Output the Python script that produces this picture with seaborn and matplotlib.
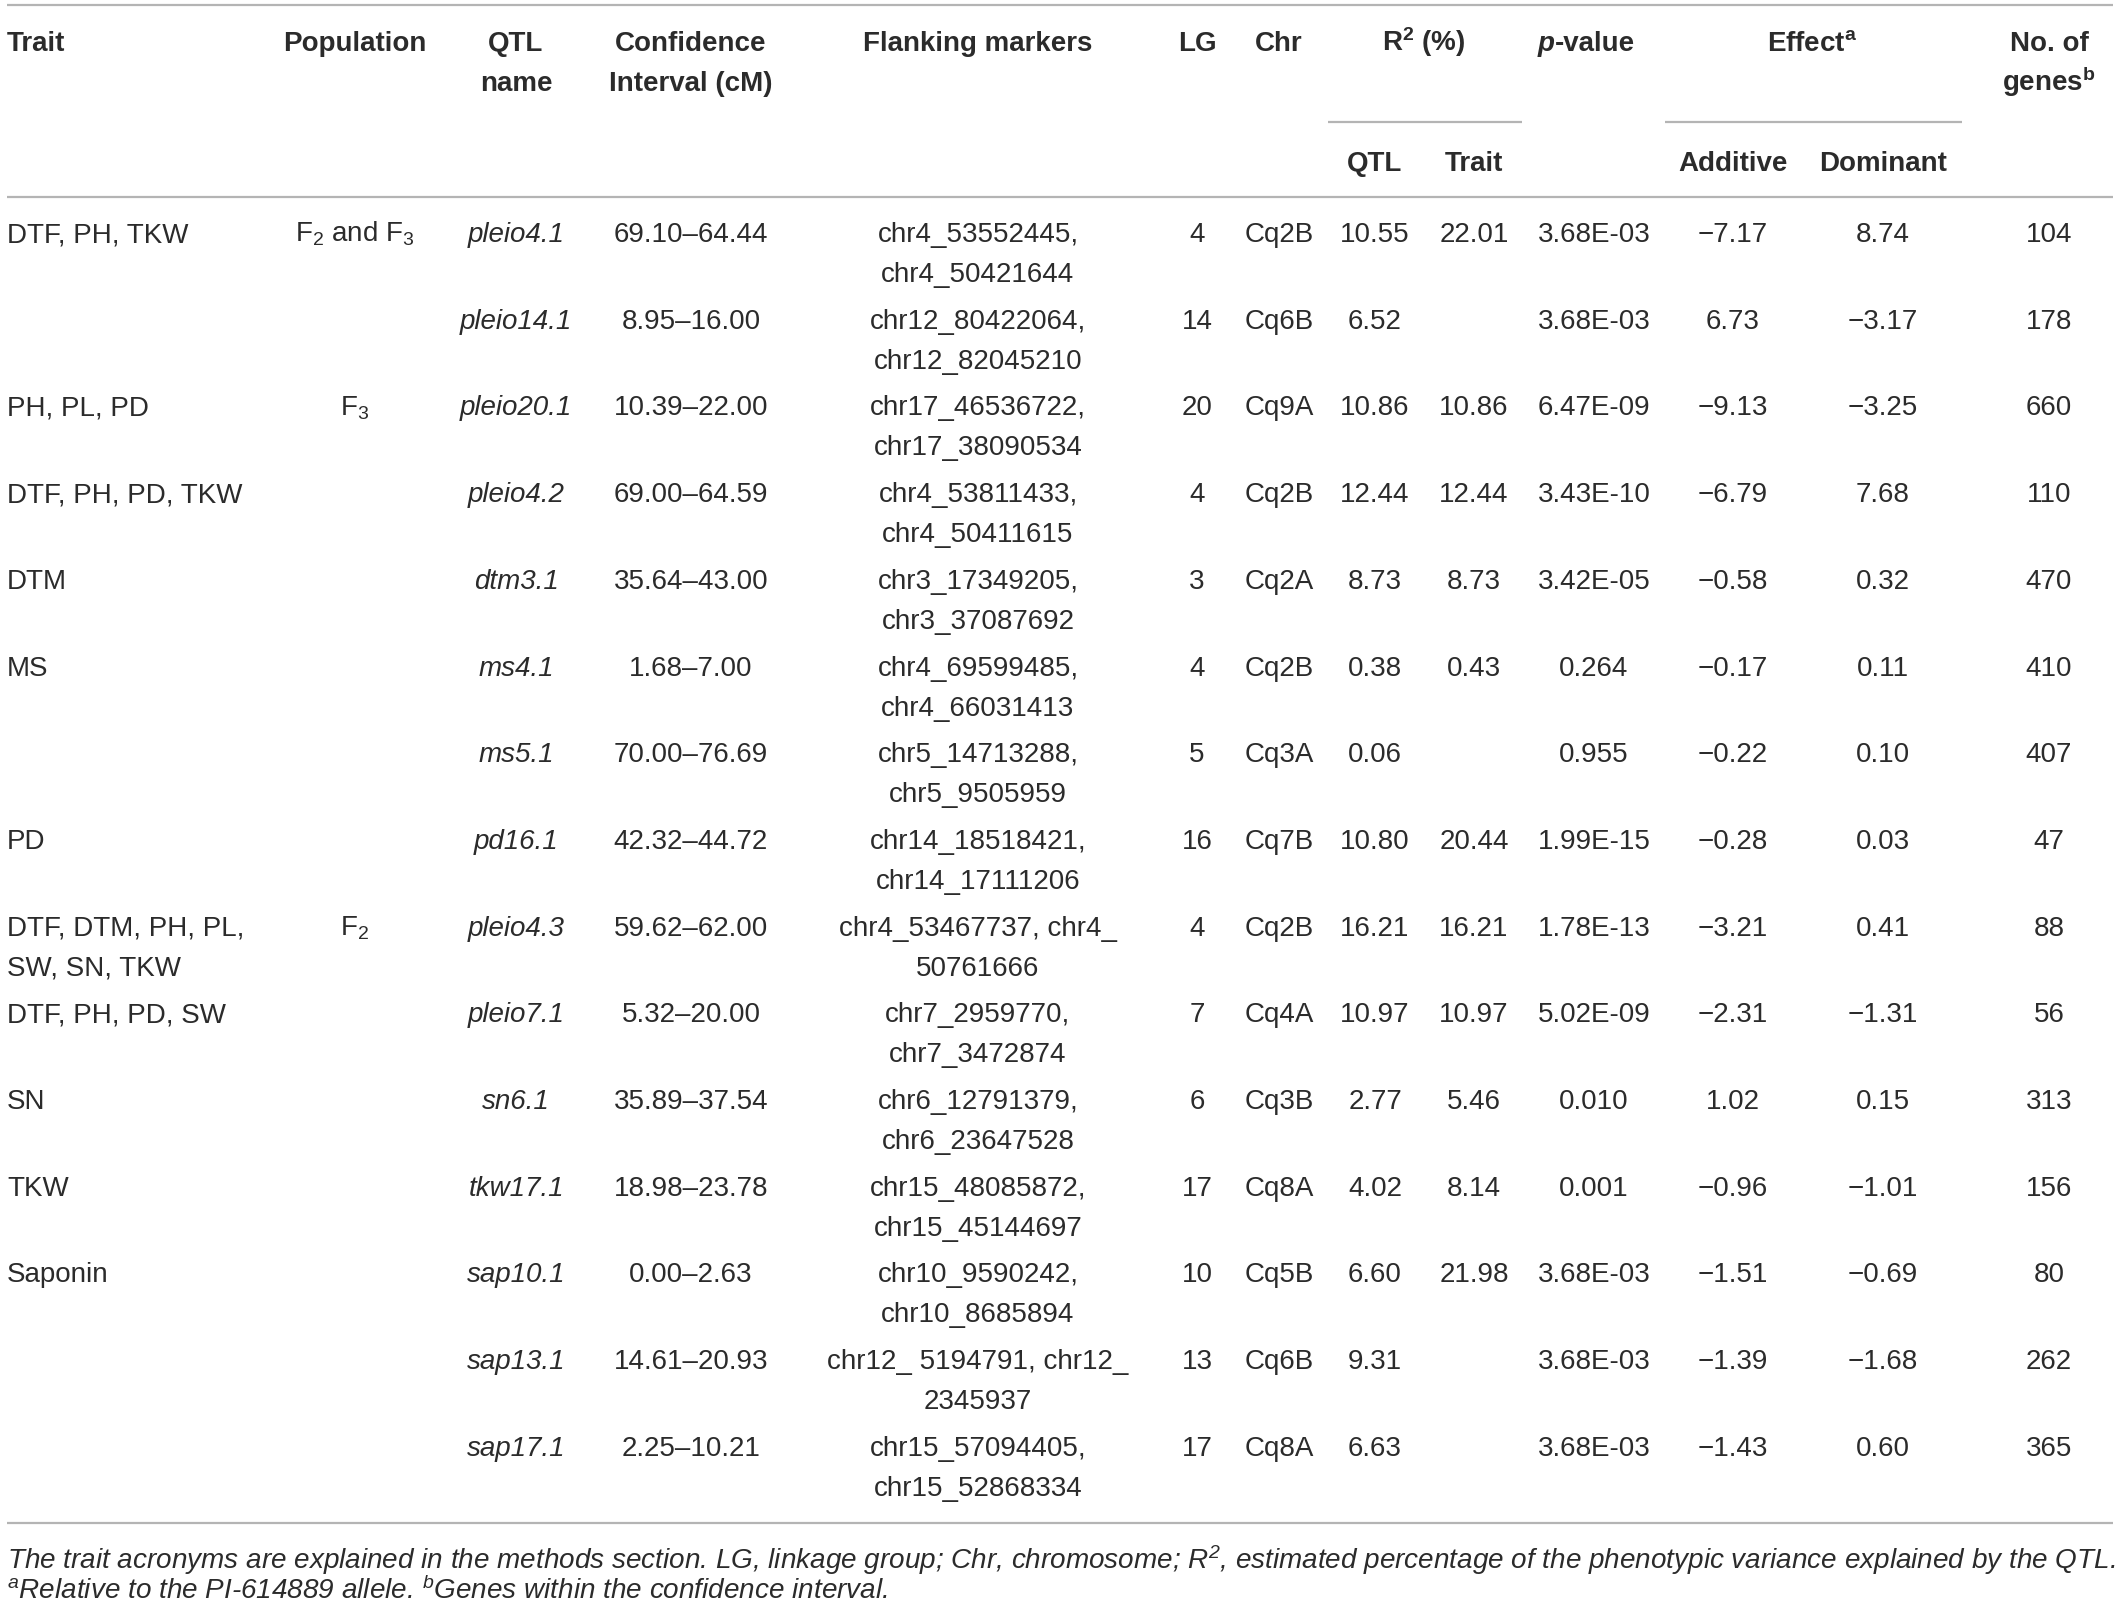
import matplotlib
matplotlib.use("Agg")
import numpy as np
import pandas as pd
import matplotlib.pyplot as plt
import seaborn as sns

# table content
trait = ["DTF, PH, TKW", "", "PH, PL, PD", "DTF, PH, PD, TKW", "DTM", "MS", "", "PD",
         "DTF, DTM, PH, PL,\nSW, SN, TKW", "DTF, PH, PD, SW", "SN", "TKW", "Saponin", "", ""]
population = ["F$_2$ and F$_3$", "", "F$_3$", "", "", "", "", "",
              "F$_2$", "", "", "", "", "", ""]
qtl_name = ["pleio4.1", "pleio14.1", "pleio20.1", "pleio4.2", "dtm3.1", "ms4.1", "ms5.1", "pd16.1",
            "pleio4.3", "pleio7.1", "sn6.1", "tkw17.1", "sap10.1", "sap13.1", "sap17.1"]
conf_int = ["69.10–64.44", "8.95–16.00", "10.39–22.00", "69.00–64.59", "35.64–43.00", "1.68–7.00",
            "70.00–76.69", "42.32–44.72", "59.62–62.00", "5.32–20.00", "35.89–37.54", "18.98–23.78",
            "0.00–2.63", "14.61–20.93", "2.25–10.21"]
markers = ["chr4_53552445,\nchr4_50421644", "chr12_80422064,\nchr12_82045210",
           "chr17_46536722,\nchr17_38090534", "chr4_53811433,\nchr4_50411615",
           "chr3_17349205,\nchr3_37087692", "chr4_69599485,\nchr4_66031413",
           "chr5_14713288,\nchr5_9505959", "chr14_18518421,\nchr14_17111206",
           "chr4_53467737, chr4_\n50761666", "chr7_2959770,\nchr7_3472874",
           "chr6_12791379,\nchr6_23647528", "chr15_48085872,\nchr15_45144697",
           "chr10_9590242,\nchr10_8685894", "chr12_ 5194791, chr12_\n2345937",
           "chr15_57094405,\nchr15_52868334"]
lg = [4, 14, 20, 4, 3, 4, 5, 16, 4, 7, 6, 17, 10, 13, 17]
chrom = ["Cq2B", "Cq6B", "Cq9A", "Cq2B", "Cq2A", "Cq2B", "Cq3A", "Cq7B", "Cq2B", "Cq4A",
         "Cq3B", "Cq8A", "Cq5B", "Cq6B", "Cq8A"]
r2_qtl = [10.55, 6.52, 10.86, 12.44, 8.73, 0.38, 0.06, 10.80, 16.21, 10.97, 2.77, 4.02, 6.60, 9.31, 6.63]
r2_trait = [22.01, None, 10.86, 12.44, 8.73, 0.43, None, 20.44, 16.21, 10.97, 5.46, 8.14, 21.98, None, None]
p_value = ["3.68E-03", "3.68E-03", "6.47E-09", "3.43E-10", "3.42E-05", "0.264", "0.955", "1.99E-15",
           "1.78E-13", "5.02E-09", "0.010", "0.001", "3.68E-03", "3.68E-03", "3.68E-03"]
additive = [-7.17, 6.73, -9.13, -6.79, -0.58, -0.17, -0.22, -0.28, -3.21, -2.31, 1.02, -0.96, -1.51, -1.39, -1.43]
dominant = [8.74, -3.17, -3.25, 7.68, 0.32, 0.11, 0.10, 0.03, 0.41, -1.31, 0.15, -1.01, -0.69, -1.68, 0.60]
n_genes = [104, 178, 660, 110, 470, 410, 407, 47, 88, 56, 313, 156, 80, 262, 365]

footnote1 = ("The trait acronyms are explained in the methods section. LG, linkage group; Chr, chromosome; "
             "R$^2$, estimated percentage of the phenotypic variance explained by the QTL.")
footnote2 = "$^a$Relative to the PI-614889 allele. $^b$Genes within the confidence interval."

sns.set_theme(style="white")
plt.rcParams['font.family'] = ['Liberation Sans', 'DejaVu Sans']
plt.rcParams['mathtext.fontset'] = 'custom'
plt.rcParams['mathtext.rm'] = 'Liberation Sans'
plt.rcParams['mathtext.it'] = 'Liberation Sans:italic'
plt.rcParams['mathtext.bf'] = 'Liberation Sans:bold'
plt.rcParams['mathtext.default'] = 'regular'


def fmt(v):
    if v is None:
        return ""
    return "{:.2f}".format(v).replace("-", "\u2212")


df = pd.DataFrame({
    'trait': trait, 'population': population, 'qtl': qtl_name, 'ci': conf_int,
    'markers': markers, 'lg': [str(v) for v in lg], 'chr': chrom,
    'r2q': [fmt(v) for v in r2_qtl], 'r2t': [fmt(v) for v in r2_trait],
    'p': p_value, 'add': [fmt(v) for v in additive], 'dom': [fmt(v) for v in dominant],
    'genes': [str(v) for v in n_genes]})

W, H = 2118, 1610
fig = plt.figure(figsize=(W / 100, H / 100), dpi=100)
ax = fig.add_axes([0, 0, 1, 1])
ax.set_xlim(0, W)
ax.set_ylim(H, 0)
ax.axis('off')

fs = 20
txt = '#2b2b2b'
rule = '#b4b4b4'
line_gap = 40
row0 = 242
row_h = 86.7

# column centres (x) and alignment
cols = [('trait', 7, 'left', 'normal'), ('population', 355, 'center', 'normal'),
        ('qtl', 516, 'center', 'italic'), ('ci', 691, 'center', 'normal'),
        ('markers', 978, 'center', 'normal'), ('lg', 1197, 'center', 'normal'),
        ('chr', 1279, 'center', 'normal'), ('r2q', 1375, 'center', 'normal'),
        ('r2t', 1474, 'center', 'normal'), ('p', 1594, 'center', 'normal'),
        ('add', 1733, 'center', 'normal'), ('dom', 1883, 'center', 'normal'),
        ('genes', 2049, 'center', 'normal')]


def put(x, y, s, ha='center', style='normal', weight='normal', size=fs):
    for k, part in enumerate(s.split("\n")):
        ax.text(x, y + k * line_gap, part, ha=ha, va='baseline', fontsize=size,
                fontstyle=style, fontweight=weight, color=txt)


# header
hb = dict(weight='bold')
put(7, 51, "Trait", ha='left', **hb)
put(355, 51, "Population", **hb)
put(516, 51, "QTL\nname", **hb)
put(691, 51, "Confidence\nInterval (cM)", **hb)
put(978, 51, "Flanking markers", **hb)
put(1197, 51, "LG", **hb)
put(1279, 51, "Chr", **hb)
put(1424, 51, "R$^2$ (%)", **hb)
ax.text(1555, 51, "p", ha='right', va='baseline', fontsize=fs, fontstyle='italic',
        fontweight='bold', color=txt)
ax.text(1555, 51, "-value", ha='left', va='baseline', fontsize=fs, fontweight='bold', color=txt)
put(1812, 51, "Effect$^a$", **hb)
put(2049, 51, "No. of\ngenes$^b$", **hb)
put(1375, 171, "QTL", **hb)
put(1474, 171, "Trait", **hb)
put(1733, 171, "Additive", **hb)
put(1883, 171, "Dominant", **hb)

# rules
ax.hlines([5, 197, 1523], 7, 2113, color=rule, lw=1.6)
ax.hlines(122, 1328, 1522, color=rule, lw=1.6)
ax.hlines(122, 1665, 1962, color=rule, lw=1.6)

# body
for i, row in df.iterrows():
    y = row0 + i * row_h
    for key, x, ha, style in cols:
        if row[key]:
            put(x, y, row[key], ha=ha, style=style)

# footnotes, fitted to table width
f1 = ax.text(7, 1569, footnote1, ha='left', va='baseline', fontsize=fs, fontstyle='italic', color=txt)
fig.canvas.draw()
w = f1.get_window_extent(fig.canvas.get_renderer()).width
fs_note = fs * 2104 / w
f1.set_fontsize(fs_note)
ax.text(7, 1599, footnote2, ha='left', va='baseline', fontsize=fs_note, fontstyle='italic', color=txt)

fig.savefig("out.png", dpi=100)
